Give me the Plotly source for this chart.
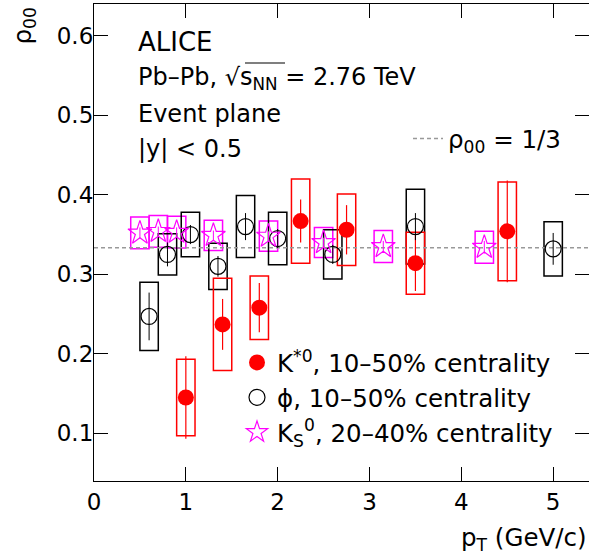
import plotly.graph_objects as go

# phi meson, 10-50% centrality
phi_pt = [0.6, 0.8, 1.05, 1.35, 1.65, 2.0, 2.6, 3.5, 5.0]
phi_rho = [0.247, 0.325, 0.350, 0.310, 0.360, 0.345, 0.325, 0.360, 0.332]
phi_stat = [0.030, 0.015, 0.012, 0.013, 0.017, 0.012, 0.012, 0.017, 0.020]
phi_sys = [0.043, 0.026, 0.028, 0.029, 0.039, 0.033, 0.031, 0.047, 0.034]

# K*0, 10-50% centrality
kst_pt = [1.0, 1.4, 1.8, 2.25, 2.75, 3.5, 4.5]
kst_rho = [0.145, 0.237, 0.258, 0.367, 0.356, 0.314, 0.354]
kst_stat = [0.052, 0.032, 0.031, 0.027, 0.031, 0.035, 0.064]
kst_sys = [0.048, 0.058, 0.040, 0.053, 0.045, 0.039, 0.062]

# K0S, 20-40% centrality
k0s_pt = [0.5, 0.7, 0.9, 1.3, 1.9, 2.5, 3.15, 4.25]
k0s_rho = [0.352, 0.354, 0.353, 0.349, 0.348, 0.340, 0.335, 0.334]
k0s_stat = [0.007, 0.006, 0.006, 0.006, 0.006, 0.006, 0.007, 0.008]
k0s_sys = [0.020, 0.020, 0.020, 0.019, 0.019, 0.019, 0.020, 0.020]

box_halfwidth = 0.1
rho_unpolarised = 1 / 3
x_range = [0, 5.39]
y_range = [0.04, 0.64]

FONT = "DejaVu Sans"
FS = 23
FS_TEXT = 24
FS_LEG = 24.5
RED = "#ff0000"
MAGENTA = "#ff00ff"
BLACK = "#000000"

fig = go.Figure()


def sys_boxes(pt, rho, sys, color):
    fig.add_trace(go.Bar(
        x=pt,
        y=[2 * s for s in sys],
        base=[r - s for r, s in zip(rho, sys)],
        width=[2 * box_halfwidth] * len(pt),
        marker=dict(color="rgba(0,0,0,0)", line=dict(color=color, width=1.5)),
        showlegend=False,
        hoverinfo="skip",
    ))


# systematic uncertainty boxes
sys_boxes(k0s_pt, k0s_rho, k0s_sys, MAGENTA)
sys_boxes(phi_pt, phi_rho, phi_sys, BLACK)
sys_boxes(kst_pt, kst_rho, kst_sys, RED)

# reference line for no spin alignment
fig.add_trace(go.Scatter(
    x=x_range, y=[rho_unpolarised, rho_unpolarised],
    mode="lines",
    line=dict(color="#999999", width=1.5, dash="4px,3px"),
    name="ρ<sub>00</sub> = 1/3",
    legend="legend2",
    hoverinfo="skip",
))

# data points with statistical uncertainties
fig.add_trace(go.Scatter(
    x=kst_pt, y=kst_rho, mode="markers",
    error_y=dict(type="data", array=kst_stat, color=RED, thickness=1.2, width=0),
    marker=dict(symbol="circle", size=16, color=RED),
    name="K<sup>*0</sup>, 10–50% centrality",
    legendgroup="kst",
))
fig.add_trace(go.Scatter(
    x=phi_pt, y=phi_rho, mode="markers",
    error_y=dict(type="data", array=phi_stat, color=BLACK, thickness=1, width=0),
    marker=dict(symbol="circle-open", size=16, color=BLACK, line=dict(width=1.2)),
    name="ϕ, 10–50% centrality",
    legendgroup="phi",
))
fig.add_trace(go.Scatter(
    x=k0s_pt, y=k0s_rho, mode="markers",
    error_y=dict(type="data", array=k0s_stat, color=MAGENTA, thickness=1, width=0),
    marker=dict(symbol="star-open", size=18, color=MAGENTA, line=dict(width=1.2)),
    name="K<sub>S</sub><sup>0</sup>, 20–40% centrality",
    legendgroup="k0s",
))

axis_common = dict(
    showline=True, linecolor=BLACK, linewidth=1.2, mirror="allticks",
    ticks="inside", ticklen=14, tickwidth=1, tickcolor=BLACK,
    showgrid=False, zeroline=False,
    tickfont=dict(family=FONT, size=FS, color=BLACK),
)


def px_x(px):
    return (px - 94) / 495


def px_y(py):
    return (481 - py) / 477


fig.update_layout(
    width=589, height=555,
    margin=dict(l=94, r=0, t=4, b=74),
    paper_bgcolor="white", plot_bgcolor="white",
    barmode="overlay",
    font=dict(family=FONT, size=FS, color=BLACK),
    xaxis=dict(range=x_range, tickvals=[0, 1, 2, 3, 4, 5], **axis_common),
    yaxis=dict(range=y_range, tickvals=[0.1, 0.2, 0.3, 0.4, 0.5, 0.6],
               tickformat=".1f", ticklabelstandoff=-5, **axis_common),
    legend=dict(x=px_x(237), y=px_y(340), xanchor="left", yanchor="top",
                bgcolor="rgba(0,0,0,0)", font=dict(family=FONT, size=FS_LEG),
                traceorder="grouped", tracegroupgap=0),
    legend2=dict(x=px_x(408), y=px_y(116), xanchor="left", yanchor="top",
                 bgcolor="rgba(0,0,0,0)", font=dict(family=FONT, size=FS_LEG)),
)

labels = [
    ("ALICE", 42, 26),
    ("Pb–Pb, √s<sub>NN</sub> = 2.76 TeV", 78, FS_TEXT),
    ("Event plane", 114, FS_TEXT),
    ("|y| < 0.5", 149, FS_TEXT),
]
for text, py, size in labels:
    fig.add_annotation(
        text=text, xref="paper", yref="paper",
        x=px_x(136), y=px_y(py), xanchor="left", yanchor="middle",
        showarrow=False, font=dict(family=FONT, size=size, color=BLACK),
    )

# overline of the square-root sign
fig.add_shape(type="line", xref="paper", yref="paper",
              x0=px_x(245), x1=px_x(285), y0=px_y(63), y1=px_y(63),
              line=dict(color=BLACK, width=1.2))

# axis titles
fig.add_annotation(
    text="p<sub>T</sub> (GeV/c)", xref="paper", yref="paper",
    x=px_x(589), y=px_y(539), xanchor="right", yanchor="middle",
    showarrow=False, font=dict(family=FONT, size=FS_LEG, color=BLACK),
)
fig.add_annotation(
    text="ρ<sub>00</sub>", xref="paper", yref="paper", textangle=-90,
    x=px_x(24), y=px_y(6), xanchor="center", yanchor="top",
    showarrow=False, font=dict(family=FONT, size=FS_LEG, color=BLACK),
)

fig.write_html("out.html")
